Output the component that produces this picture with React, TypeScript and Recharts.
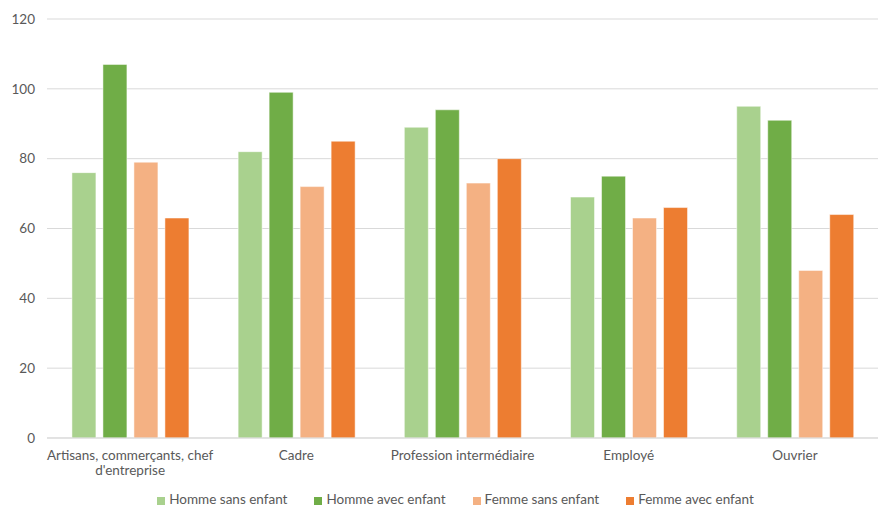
import { BarChart, Bar, XAxis, YAxis, CartesianGrid, Legend } from 'recharts'

const categories = [
  'Artisans, commerçants, chef d\'entreprise',
  'Cadre',
  'Profession intermédiaire',
  'Employé',
  'Ouvrier',
]

const hommeSansEnfant = [76, 82, 89, 69, 95]
const hommeAvecEnfant = [107, 99, 94, 75, 91]
const femmeSansEnfant = [79, 72, 73, 63, 48]
const femmeAvecEnfant = [63, 85, 80, 66, 64]

const yTicks = [0, 20, 40, 60, 80, 100, 120]

const series = [
  { key: 'hse', name: 'Homme sans enfant', color: '#a9d18e', values: hommeSansEnfant },
  { key: 'hae', name: 'Homme avec enfant', color: '#70ad47', values: hommeAvecEnfant },
  { key: 'fse', name: 'Femme sans enfant', color: '#f4b183', values: femmeSansEnfant },
  { key: 'fae', name: 'Femme avec enfant', color: '#ed7d31', values: femmeAvecEnfant },
]
const seriesOrder = series.map((s) => s.key)

const data = categories.map((name, i) => {
  const row: Record<string, string | number> = { name }
  series.forEach((s) => {
    row[s.key] = s.values[i]
  })
  return row
})

const font = 'Lato, "Open Sans", sans-serif'
const textColor = '#595959'
const fontSize = 13.5

// split long labels into lines of at most maxChars
function wrap(label: string, maxChars = 28): string[] {
  const words = label.split(' ')
  const lines: string[] = []
  let cur = ''
  words.forEach((w) => {
    const next = cur ? cur + ' ' + w : w
    if (next.length > maxChars && cur) {
      lines.push(cur)
      cur = w
    } else {
      cur = next
    }
  })
  if (cur) lines.push(cur)
  return lines
}

function CategoryTick(props: any) {
  const { x, y, payload } = props
  const lines = wrap(String(payload.value))
  return (
    <text x={x} y={y} textAnchor="middle" fill={textColor} fontSize={fontSize} fontFamily={font}>
      {lines.map((line, i) => (
        <tspan key={i} x={x} dy={i === 0 ? '0.9em' : '1.12em'}>
          {line}
        </tspan>
      ))}
    </text>
  )
}

export default function App() {
  return (
    <div style={{ position: 'absolute', left: 0, top: 0, background: '#fff' }}>
      <BarChart
        width={878}
        height={507}
        data={data}
        margin={{ top: 19, right: 0, bottom: 0, left: 0 }}
        barCategoryGap="15%"
        barGap={7}
      >
        <CartesianGrid vertical={false} stroke="#d9d9d9" />
        <XAxis
          dataKey="name"
          tick={<CategoryTick />}
          tickLine={false}
          axisLine={{ stroke: '#d9d9d9' }}
          interval={0}
          height={53}
          tickMargin={4}
        />
        <YAxis
          domain={[0, 120]}
          ticks={yTicks}
          width={47}
          axisLine={false}
          tickLine={false}
          tickMargin={6}
          tick={{ fill: textColor, fontSize, fontFamily: font }}
        />
        <Legend
          verticalAlign="bottom"
          iconType="square"
          iconSize={8}
          itemSorter={(item: any) => seriesOrder.indexOf(item.dataKey)}
          wrapperStyle={{ fontFamily: font, fontSize, color: textColor, left: 30 }}
          formatter={(value) => <span style={{ color: textColor, marginRight: 17 }}>{value}</span>}
        />
        {series.map((s) => (
          <Bar
            key={s.key}
            dataKey={s.key}
            name={s.name}
            fill={s.color}
            stroke="#ffffff"
            strokeOpacity={0.5}
            strokeWidth={1}
            isAnimationActive={false}
          />
        ))}
      </BarChart>
    </div>
  )
}
